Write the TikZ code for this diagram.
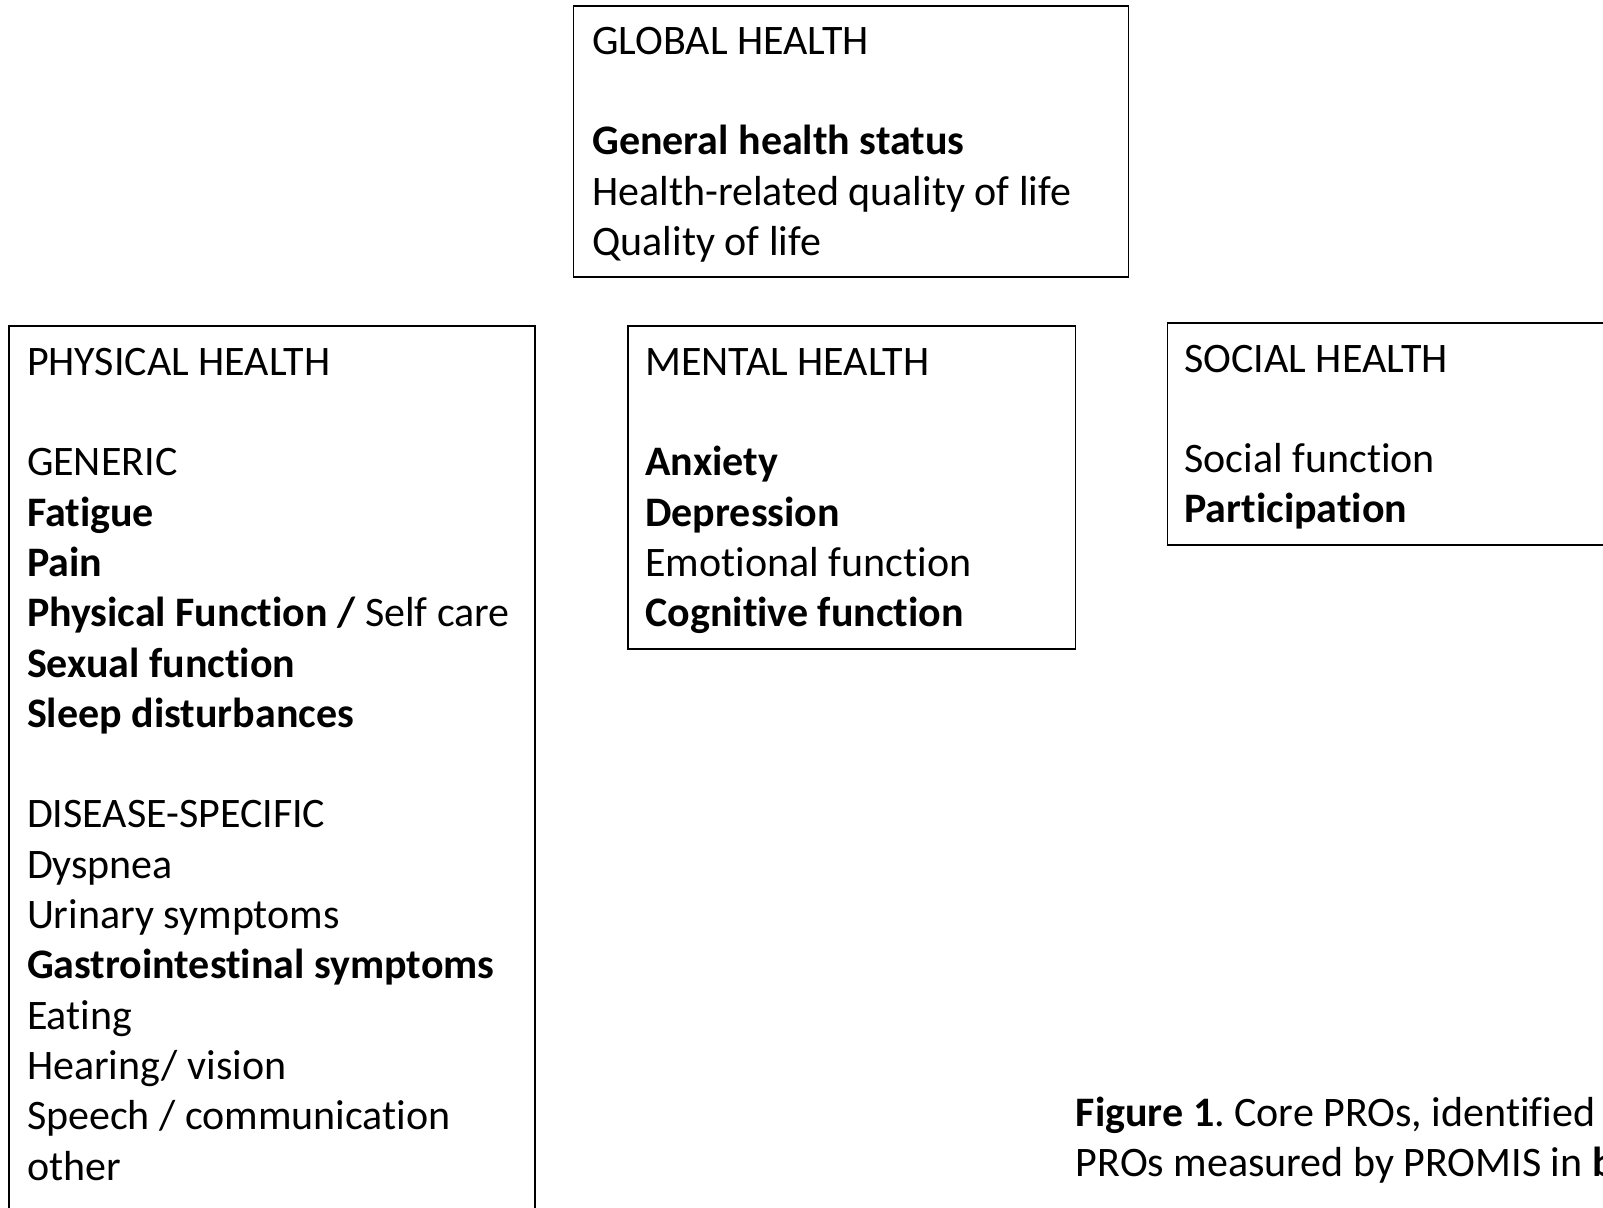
\documentclass[tikz,border=0pt]{standalone}
\usepackage{fontspec}
\setmainfont[RawFeature={-liga;-calt;-clig}]{Carlito}
\begin{document}
\frenchspacing
\begin{tikzpicture}[x=0.5pt,y=-0.5pt,
  panel/.style={draw=black,line width=0.8pt},
  txt/.style={anchor=base west,inner sep=0pt,text width=300pt,align=flush left,
    font=\fontsize{21pt}{25.15pt}\selectfont}]
\useasboundingbox (0,0) rectangle (1603,1207);
\draw[panel] (573.5,6) rectangle (1128.6,277);
\draw[panel] (9.2,326) rectangle (534.7,1240);
\draw[panel] (627.7,326) rectangle (1075.5,649);
\draw[panel] (1167.5,323) rectangle (1660,545);
\node[txt] (global) at (592,54.2) {GLOBAL HEALTH\\ \mbox{}\\ \textbf{General health status}\\ Health-related quality of life\\ Quality of life};
\node[txt] (phys) at (26.6,375.2) {PHYSICAL HEALTH\\ \mbox{}\\ GENERIC\\ \textbf{Fatigue}\\ \textbf{Pain}\\ \textbf{Physical Function /} Self care\\ \textbf{Sexual function}\\ \textbf{Sleep disturbances}\\ \mbox{}\\ DISEASE-SPECIFIC\\ Dyspnea\\ Urinary symptoms\\ \textbf{Gastrointestinal symptoms}\\ Eating\\ Hearing/ vision\\ Speech / communication\\ other};
\node[txt] (mental) at (645,375.2) {MENTAL HEALTH\\ \mbox{}\\ \textbf{Anxiety}\\ \textbf{Depression}\\ Emotional function\\ \textbf{Cognitive function}};
\node[txt] (social) at (1184,372) {SOCIAL HEALTH\\ \mbox{}\\ Social function\\ \textbf{Participation}};
\node[txt] (caption) at (1075.5,1126.6) {\textbf{Figure 1}. Core PROs, identified\\ PROs measured by PROMIS in \textbf{b}};
\end{tikzpicture}
\end{document}
